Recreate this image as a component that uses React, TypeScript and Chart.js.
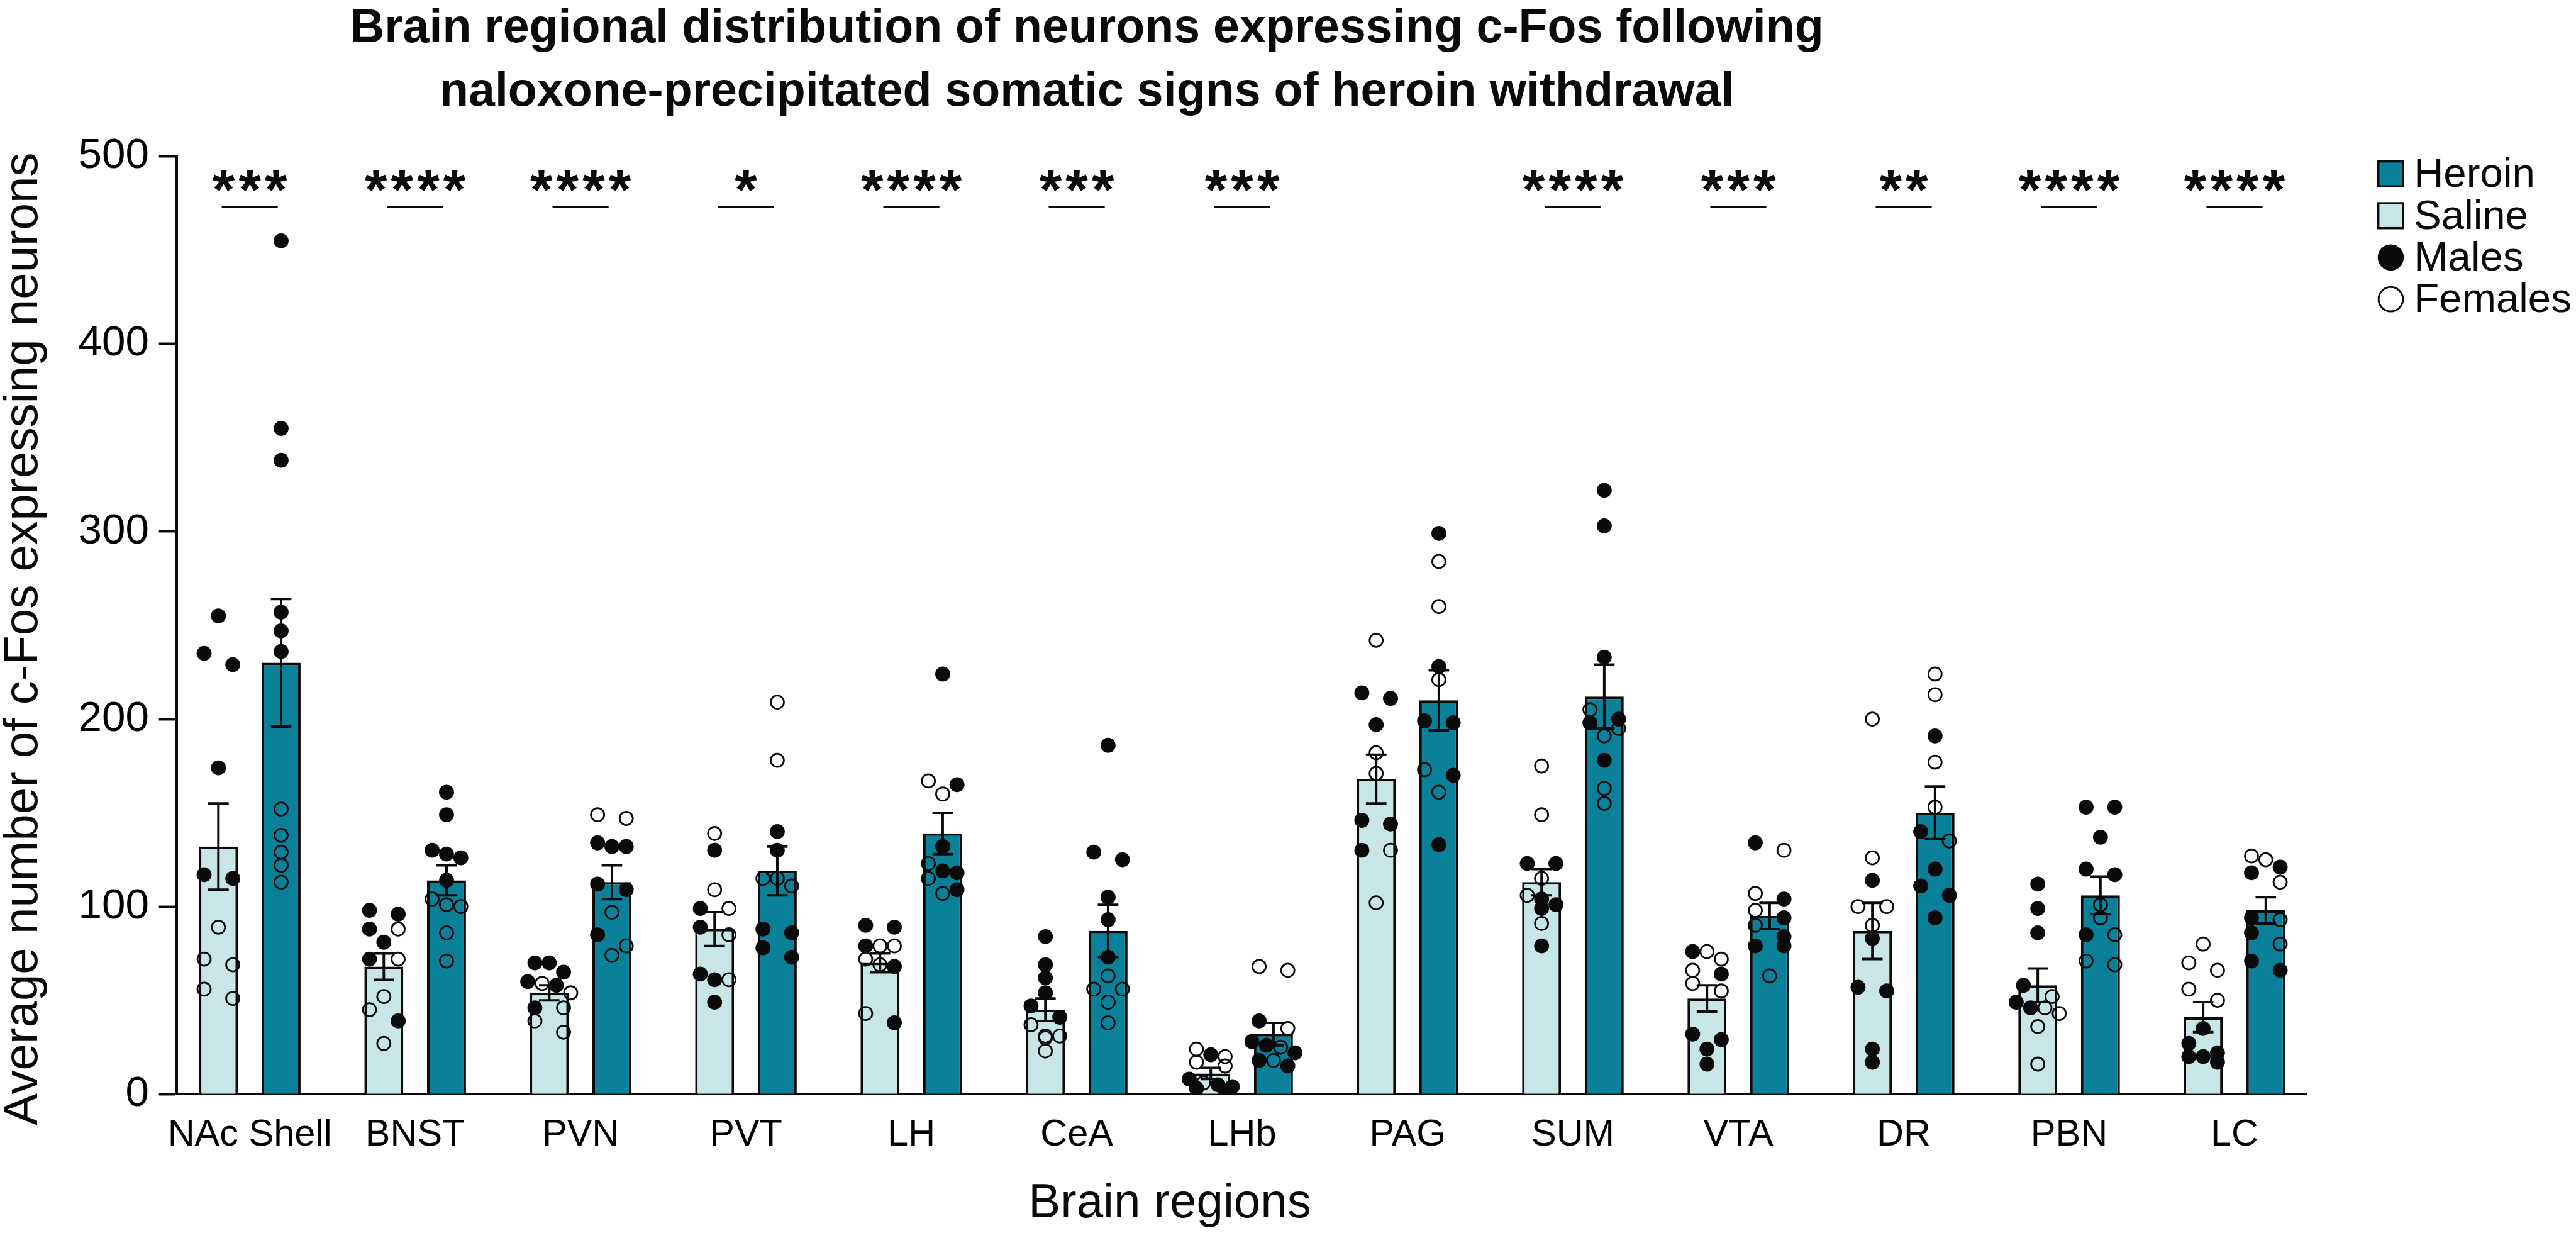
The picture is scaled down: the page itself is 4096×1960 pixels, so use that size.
import React, { useEffect, useRef } from 'react';
import { Chart, registerables } from 'chart.js';

Chart.register(...registerables);

// ---------------- data ----------------
const regions = ['NAc Shell', 'BNST', 'PVN', 'PVT', 'LH', 'CeA', 'LHb', 'PAG', 'SUM', 'VTA', 'DR', 'PBN', 'LC'];

const salineMean = [132, 68, 54, 88, 70, 45, 11, 168, 113, 51, 87, 58, 41];
const salineSem = [23, 7, 4, 9, 5, 6, 3, 13, 7, 7, 15, 9, 8];
const heroinMean = [230, 114, 113, 119, 139, 87, 32, 210, 212, 95, 150, 106, 98];
const heroinSem = [34, 8, 9, 13, 11, 14, 6, 16, 17, 7, 14, 10, 7];

const salineMales = [
  [255, 235, 229, 174, 117, 115],
  [98, 96, 88, 81, 72, 39],
  [70, 70, 65, 60, 58, 46],
  [130, 99, 89, 64, 61, 49],
  [90, 89, 79, 68, 38],
  [84, 69, 62, 54, 47, 41],
  [21, 8, 5, 4, 3, 2],
  [214, 211, 197, 146, 144, 130],
  [123, 123, 104, 101, 99, 79],
  [76, 64, 32, 29, 24, 16],
  [114, 83, 57, 55, 24, 17],
  [112, 99, 86, 58, 49, 46],
  [35, 27, 22, 20, 20, 17],
];
const salineFemales = [
  [89, 72, 69, 56, 51],
  [88, 72, 52, 45, 27],
  [59, 54, 46, 39, 33],
  [139, 109, 99, 85, 61],
  [79, 79, 72, 69, 43],
  [37, 31, 31, 30, 23],
  [24, 20, 17, 15, 6],
  [242, 182, 171, 130, 102],
  [175, 149, 115, 106, 91],
  [76, 72, 66, 59, 55],
  [200, 126, 100, 100, 90],
  [52, 46, 43, 36, 16],
  [80, 70, 66, 56, 50],
];
const heroinMales = [
  [455, 355, 338, 257, 247, 236],
  [161, 149, 130, 128, 126, 114],
  [134, 132, 132, 112, 109, 85],
  [140, 130, 88, 86, 78, 73],
  [224, 165, 132, 119, 118, 109],
  [186, 129, 125, 105, 93, 73],
  [39, 28, 26, 22, 18, 15],
  [299, 228, 199, 198, 170, 133],
  [322, 303, 233, 200, 198, 178],
  [134, 104, 94, 84, 79, 79],
  [191, 140, 120, 111, 106, 94],
  [153, 153, 137, 120, 117, 85],
  [121, 118, 94, 86, 71, 66],
];
const heroinFemales = [
  [152, 138, 129, 122, 113],
  [104, 101, 100, 86, 71],
  [149, 147, 97, 79, 74],
  [209, 178, 115, 115, 111],
  [167, 160, 123, 115, 107],
  [63, 56, 56, 49, 38],
  [68, 66, 35, 25, 18],
  [284, 260, 221, 173, 161],
  [205, 195, 191, 163, 155],
  [130, 107, 98, 90, 63],
  [224, 213, 177, 153, 135],
  [101, 94, 85, 71, 69],
  [127, 125, 113, 93, 80],
];

const significance = ['***', '****', '****', '*', '****', '***', '***', '', '****', '***', '**', '****', '****'];
const yTickValues = [0, 100, 200, 300, 400, 500];
const legendLabels = ['Heroin', 'Saline', 'Males', 'Females'];

const titleLines = [
  'Brain regional distribution of neurons expressing c-Fos following',
  'naloxone-precipitated somatic signs of heroin withdrawal',
];
const yTitle = 'Average number of c-Fos expressing neurons';
const xTitle = 'Brain regions';

// ---------------- layout / style ----------------
const W = 4096;
const H = 1960;
const S = 0.991;
const p = (v: number) => v * S;
const FONT = '"Liberation Sans", Arial, Helvetica, sans-serif';
const HEROIN = '#0B8199';
const SALINE = '#C9E6E6';
const INK = '#0A0A0A';

const AXIS_LEFT = 284;
const AXIS_RIGHT = 3702;
const AXIS_TOP = 251;
const AXIS_BOTTOM = 1755;
const X_MIN = -0.44;
const X_MAX = 12.44;
const CAT_PCT = 0.758;
const BAR_PCT = 0.621;
const GROUP_SHIFT = CAT_PCT / 4;
const PX_PER_CAT = (AXIS_RIGHT - AXIS_LEFT) / (X_MAX - X_MIN);
const PX_PER_VAL = (AXIS_BOTTOM - AXIS_TOP) / 500;
const DOT_D = 23;

type Pt = { x: number; y: number };

function swarm(males: number[], females: number[], center: number, outM: Pt[], outF: Pt[]) {
  const pts = [
    ...males.map((v) => ({ v, m: true })),
    ...females.map((v) => ({ v, m: false })),
  ].sort((a, b) => b.v - a.v);
  const thr = (0.9 * DOT_D) / PX_PER_VAL;
  let i = 0;
  while (i < pts.length) {
    const row = [pts[i]];
    let j = i + 1;
    while (j < pts.length && row.length < 4 && pts[i].v - pts[j].v < thr) {
      row.push(pts[j]);
      j++;
    }
    const n = row.length;
    const step = n === 2 ? 2 : 1;
    row.forEach((pt, k) => {
      const off = ((k - (n - 1) / 2) * step * DOT_D) / PX_PER_CAT;
      (pt.m ? outM : outF).push({ x: center + off, y: pt.v });
    });
    i = j;
  }
}

const overlayPlugin = {
  id: 'overlay',
  afterDatasetsDraw(chart: any) {
    const { ctx } = chart;
    const yS = chart.scales.y;
    const cap = p(33);
    ctx.save();
    ctx.strokeStyle = INK;
    ctx.lineWidth = p(4);
    ctx.lineCap = 'butt';
    const sets: [number, number[], number[]][] = [
      [0, salineMean, salineSem],
      [1, heroinMean, heroinSem],
    ];
    sets.forEach(([di, means, sems]) => {
      const meta = chart.getDatasetMeta(di);
      meta.data.forEach((el: any, i: number) => {
        const x = el.x;
        const top = yS.getPixelForValue(means[i] + sems[i]);
        const bot = yS.getPixelForValue(Math.max(0, means[i] - sems[i]));
        ctx.beginPath();
        ctx.moveTo(x, top);
        ctx.lineTo(x, bot);
        ctx.moveTo(x - cap / 2, top);
        ctx.lineTo(x + cap / 2, top);
        ctx.moveTo(x - cap / 2, bot);
        ctx.lineTo(x + cap / 2, bot);
        ctx.stroke();
      });
    });
    ctx.restore();
  },
  afterDraw(chart: any) {
    const { ctx } = chart;
    const xS = chart.scales.x;
    const yS = chart.scales.y;
    ctx.save();
    ctx.fillStyle = INK;
    ctx.strokeStyle = INK;

    // significance stars and bars
    ctx.font = `bold ${p(92)}px ${FONT}`;
    const m = ctx.measureText('*');
    const asc = m.actualBoundingBoxAscent;
    const desc = m.actualBoundingBoxDescent;
    significance.forEach((s, i) => {
      if (!s) return;
      const cx = xS.getPixelForValue(i);
      const cy = yS.getPixelForValue(487);
      const gap = p(42);
      const n = s.length;
      ctx.textAlign = 'center';
      ctx.textBaseline = 'alphabetic';
      for (let k = 0; k < n; k++) {
        const sx = cx + (k - (n - 1) / 2) * gap;
        ctx.fillText('*', sx, cy + (asc - desc) / 2);
      }
      const ly = yS.getPixelForValue(473);
      ctx.lineWidth = p(3);
      ctx.beginPath();
      ctx.moveTo(cx - p(45), ly);
      ctx.lineTo(cx + p(45), ly);
      ctx.stroke();
    });

    // main title
    ctx.textAlign = 'center';
    ctx.textBaseline = 'alphabetic';
    ctx.font = `bold ${p(76)}px ${FONT}`;
    ctx.fillText(titleLines[0], p(1744), p(68));
    ctx.fillText(titleLines[1], p(1744), p(170));

    // axis titles
    ctx.font = `${p(77)}px ${FONT}`;
    ctx.fillText(xTitle, p(1877), p(1953));
    ctx.save();
    ctx.translate(p(60), p(1025));
    ctx.rotate(-Math.PI / 2);
    ctx.fillText(yTitle, 0, 0);
    ctx.restore();

    // legend
    const baselines = [300, 367, 434, 501];
    ctx.font = `${p(66)}px ${FONT}`;
    ctx.textAlign = 'left';
    legendLabels.forEach((lab, k) => {
      const by = p(baselines[k]);
      const my = by - p(21);
      const mx = p(3836);
      const half = p(20);
      ctx.lineWidth = p(3.5);
      if (k < 2) {
        ctx.fillStyle = k === 0 ? HEROIN : SALINE;
        ctx.fillRect(mx - half, my - half, half * 2, half * 2);
        ctx.strokeRect(mx - half, my - half, half * 2, half * 2);
      } else if (k === 2) {
        ctx.fillStyle = INK;
        ctx.beginPath();
        ctx.arc(mx, my, p(21), 0, Math.PI * 2);
        ctx.fill();
      } else {
        ctx.lineWidth = p(3);
        ctx.beginPath();
        ctx.arc(mx, my, p(19.5), 0, Math.PI * 2);
        ctx.stroke();
      }
      ctx.fillStyle = INK;
      ctx.fillText(lab, p(3873), by);
    });
    ctx.restore();
  },
};

export default function App() {
  const ref = useRef<HTMLCanvasElement | null>(null);

  useEffect(() => {
    if (!ref.current) return;
    const maleScatter: Pt[] = [];
    const femaleScatter: Pt[] = [];
    regions.forEach((_, i) => {
      swarm(salineMales[i], salineFemales[i], i - GROUP_SHIFT, maleScatter, femaleScatter);
      swarm(heroinMales[i], heroinFemales[i], i + GROUP_SHIFT, maleScatter, femaleScatter);
    });

    const chart = new Chart(ref.current, {
      type: 'bar',
      data: {
        datasets: [
          {
            type: 'bar',
            label: 'Saline',
            data: regions.map((_, i) => ({ x: i, y: salineMean[i] })),
            backgroundColor: SALINE,
            borderColor: INK,
            borderWidth: p(4),
            borderSkipped: 'start',
            categoryPercentage: CAT_PCT,
            barPercentage: BAR_PCT,
            order: 2,
          },
          {
            type: 'bar',
            label: 'Heroin',
            data: regions.map((_, i) => ({ x: i, y: heroinMean[i] })),
            backgroundColor: HEROIN,
            borderColor: INK,
            borderWidth: p(4),
            borderSkipped: 'start',
            categoryPercentage: CAT_PCT,
            barPercentage: BAR_PCT,
            order: 2,
          },
          {
            type: 'scatter',
            label: 'Males',
            data: maleScatter,
            pointRadius: p(12),
            pointHoverRadius: p(12),
            pointBackgroundColor: INK,
            pointBorderColor: INK,
            pointBorderWidth: 0,
            order: 1,
          },
          {
            type: 'scatter',
            label: 'Females',
            data: femaleScatter,
            pointRadius: p(10.6),
            pointHoverRadius: p(10.6),
            pointBackgroundColor: 'rgba(0,0,0,0)',
            pointBorderColor: INK,
            pointBorderWidth: p(2.8),
            order: 0,
          },
        ],
      } as any,
      options: {
        animation: false,
        responsive: false,
        maintainAspectRatio: false,
        devicePixelRatio: 1,
        events: [],
        layout: {
          padding: { left: 0, top: p(AXIS_TOP), right: W - p(AXIS_RIGHT), bottom: 0 },
        },
        plugins: {
          legend: { display: false },
          tooltip: { enabled: false },
          title: { display: false },
        },
        scales: {
          x: {
            type: 'linear',
            min: X_MIN,
            max: X_MAX,
            offset: false,
            grid: { display: false, drawTicks: false },
            border: { display: true, color: INK, width: p(4) },
            ticks: {
              autoSkip: false,
              maxRotation: 0,
              minRotation: 0,
              padding: p(30),
              color: '#000',
              font: { family: FONT, size: p(60) },
              callback: (v: any) => regions[Math.round(Number(v))] ?? '',
            },
            afterBuildTicks: (axis: any) => {
              axis.ticks = regions.map((_, i) => ({ value: i }));
            },
            afterFit: (s: any) => {
              s.height = H - p(AXIS_BOTTOM);
            },
          },
          y: {
            type: 'linear',
            min: 0,
            max: 500,
            grid: {
              display: true,
              drawOnChartArea: false,
              drawTicks: true,
              tickLength: p(29),
              tickWidth: p(4),
              tickColor: INK,
            },
            border: { display: true, color: INK, width: p(4) },
            ticks: {
              stepSize: 100,
              padding: p(16),
              color: '#000',
              font: { family: FONT, size: p(68) },
            },
            afterBuildTicks: (axis: any) => {
              axis.ticks = yTickValues.map((v) => ({ value: v }));
            },
            afterFit: (s: any) => {
              s.width = p(AXIS_LEFT);
            },
          },
        },
      } as any,
      plugins: [overlayPlugin],
    });
    return () => chart.destroy();
  }, []);

  return (
    <div style={{ position: 'fixed', left: 0, top: 0, width: W, height: H, background: '#fff' }}>
      <canvas ref={ref} width={W} height={H} style={{ width: W, height: H, display: 'block' }} />
    </div>
  );
}
